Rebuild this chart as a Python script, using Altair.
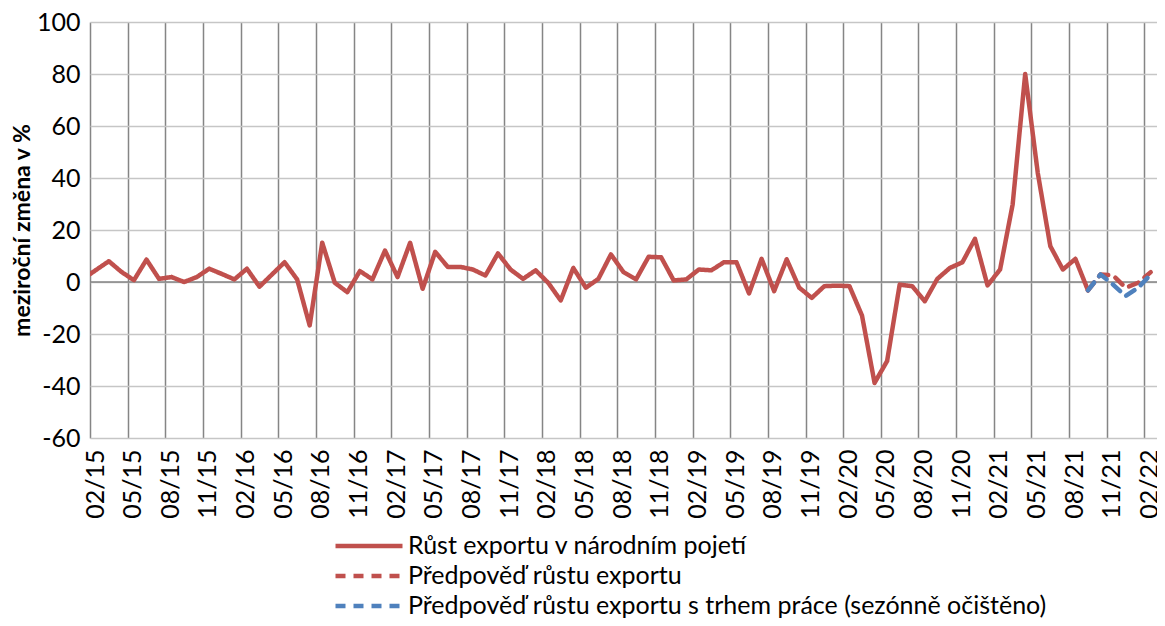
import json
import altair as alt
import pandas as pd

# x tick labels (every third month, Feb 2015 .. Feb 2022)
tick_labels = ["02/15", "05/15", "08/15", "11/15", "02/16", "05/16", "08/16", "11/16",
               "02/17", "05/17", "08/17", "11/17", "02/18", "05/18", "08/18", "11/18",
               "02/19", "05/19", "08/19", "11/19", "02/20", "05/20", "08/20", "11/20",
               "02/21", "05/21", "08/21", "11/21", "02/22"]

series_names = ["Růst exportu v národním pojetí",
                "Předpověď růstu exportu",
                "Předpověď růstu exportu s trhem práce (sezónně očištěno)"]

# monthly year-on-year growth, 01/15 .. 09/21
actual = [1.4, 4.7, 8.0, 3.9, 0.7, 8.6, 1.2, 1.9, 0.0, 1.9, 5.1, 3.1, 1.0,
          5.1, -1.8, 2.9, 7.6, 1.0, -16.7, 15.1, -0.3, -3.9, 4.2, 1.0, 12.1,
          1.9, 15.1, -2.6, 11.6, 5.8, 5.8, 4.8, 2.5, 11.0, 4.8, 1.2, 4.5,
          -0.3, -7.1, 5.4, -2.2, 1.2, 10.6, 3.8, 1.0, 9.7, 9.5, 0.6, 1.0,
          4.8, 4.5, 7.6, 7.6, -4.4, 8.9, -3.5, 8.7, -2.2, -6.1, -1.6, -1.4,
          -1.6, -12.9, -38.8, -30.4, -1.0, -1.6, -7.4, 1.2, 5.4, 7.6, 16.6,
          -1.3, 4.8, 29.8, 80.0, 42.0, 13.8, 4.8, 8.9, -3.2]
# forecasts, 09/21 .. 02/22
forecast_export = [-3.2, 2.9, 2.5, -2.2, -0.3, 3.8]
forecast_labour = [-3.2, 2.9, -1.0, -5.4, -2.2, 2.9]

rows = []
for i, v in enumerate(actual):
    rows.append({"pos": i - 1 + 0.5, "value": v, "series": series_names[0]})
start = len(actual) - 2
for j, v in enumerate(forecast_export):
    rows.append({"pos": start + j + 0.5, "value": v, "series": series_names[1]})
for j, v in enumerate(forecast_labour):
    rows.append({"pos": start + j + 0.5, "value": v, "series": series_names[2]})
df = pd.DataFrame(rows)

FONT = "Lato"
n_cat = 3 * (len(tick_labels) - 1) + 1

x_axis = alt.Axis(
    values=list(range(0, n_cat, 3)),
    labelExpr=json.dumps(tick_labels) + "[round(datum.value / 3)]",
    labelAngle=270, labelFontSize=25, labelFont=FONT, labelColor="#000000",
    labelPadding=11, labelOffset=5, ticks=False, domain=False,
    grid=True, gridColor="#858585", gridWidth=1.5, title=None,
)
y_axis = alt.Axis(
    values=list(range(-60, 101, 20)),
    labelExpr="'' + datum.value",
    labelFontSize=25, labelFont=FONT, labelColor="#000000", labelPadding=10,
    ticks=False, domain=False, grid=True, gridColor="#c6c6c6", gridWidth=1.5,
    title="meziroční změna v %", titleFont=FONT, titleFontSize=23,
    titleFontWeight="bold", titleColor="#000000", titlePadding=2,
)

color_scale = alt.Scale(domain=series_names, range=["#C0504D", "#C0504D", "#4F81BD"])
dash_scale = alt.Scale(domain=series_names, range=[[1, 0], [10, 8], [10, 8]])

base = alt.Chart(df).encode(
    x=alt.X("pos:Q", scale=alt.Scale(domain=[0, n_cat], nice=False, zero=False), axis=x_axis),
    y=alt.Y("value:Q", scale=alt.Scale(domain=[-60, 100], nice=False), axis=y_axis),
    color=alt.Color("series:N", scale=color_scale, legend=alt.Legend(title=None)),
    strokeDash=alt.StrokeDash("series:N", scale=dash_scale, legend=alt.Legend(title=None)),
)

zero = alt.Chart(pd.DataFrame({"v": [0]})).mark_rule(color="#858585", strokeWidth=1.5).encode(y="v:Q")

layers = [zero]
for name in series_names:
    layers.append(
        base.transform_filter(alt.datum.series == name).mark_line(
            strokeWidth=4.5, clip=True, strokeCap="round", strokeJoin="round"
        )
    )

chart = alt.layer(*layers).properties(
    width=1067, height=416,
    autosize=alt.AutoSizeParams(type="none"),
    padding={"left": 82, "top": 14, "right": 0, "bottom": 180},
).configure_view(stroke=None).configure_legend(
    orient="none", legendX=266.5, legendY=511.5, direction="vertical",
    symbolType="M-3.35,0H3.35", symbolSize=400, symbolStrokeWidth=4.5,
    labelFont=FONT, labelFontSize=25, labelColor="#000000", labelLimit=0,
    labelOffset=26.5, rowPadding=4, padding=0,
)

chart.save("out.html", embed_options={"renderer": "svg", "actions": False})
